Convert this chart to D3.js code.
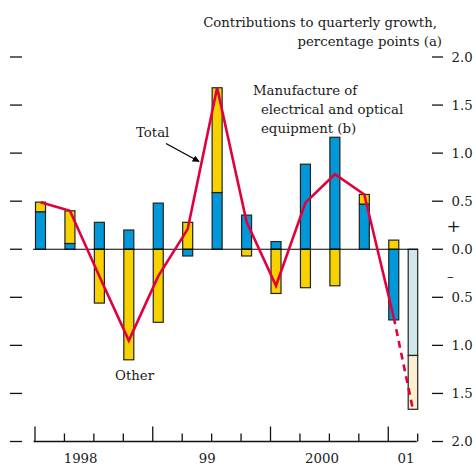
<!DOCTYPE html>
<html>
<head>
<meta charset="utf-8">
<script src="https://cdn.jsdelivr.net/npm/d3@7"></script>
<style>
  html, body { margin: 0; padding: 0; background: #ffffff; }
  svg { display: block; }
  text { font-family: "DejaVu Serif", "Liberation Serif", serif; fill: #1a1a1a; }
</style>
</head>
<body>
<svg id="chart" width="476" height="466"></svg>
<script>
// Quarterly contributions to manufacturing output growth, percentage points
const quarters = ["1998 Q1", "1998 Q2", "1998 Q3", "1998 Q4",
                  "1999 Q1", "1999 Q2", "1999 Q3", "1999 Q4",
                  "2000 Q1", "2000 Q2", "2000 Q3", "2000 Q4",
                  "2001 Q1"];
const electrical = [0.39, 0.06, 0.28, 0.20, 0.48, -0.07, 0.59, 0.355, 0.08, 0.885, 1.165, 0.47, -0.735];
const other      = [0.10, 0.34, -0.56, -1.15, -0.76, 0.28, 1.09, -0.07, -0.46, -0.40, -0.38, 0.10, 0.095];
const total      = [0.49, 0.40, -0.28, -0.95, -0.28, 0.21, 1.68, 0.285, -0.38, 0.485, 0.78, 0.57, -0.71];

// Projected quarter (light bar, dashed line)
const projQuarter = "2001 Q2";
const projElectrical = -1.105;
const projOther = -0.56;
const projTotal = -1.665;

// Axis ticks and labels
const yTicks = [2, 1.5, 1, 0.5, 0, -0.5, -1, -1.5, -2];
const yTickLabels = ["2.0", "1.5", "1.0", "0.5", "0.0", "0.5", "1.0", "1.5", "2.0"];
const years = ["1998", "99", "2000", "01"];

// ---- layout ----
const svg = d3.select("#chart");
const nTicks = quarters.length + 1;          // quarter boundaries
const x = d3.scaleLinear().domain([0, nTicks - 1]).range([35, 417.7]);
const y = d3.scaleLinear().domain([-2, 2]).range([441.5, 57]);
const barW = 10;
const yearLabelAt = [1.55, 5.85, 9.75, 12.6];   // label centres, in quarter units

const colBlue = "#0098d8";
const colYellow = "#f8d200";
const colRed = "#e2003c";
const colBlueLight = "#d0e7ea";
const colYellowLight = "#fdf0cf";
const colEdge = "#222222";

// ---- stacked bars ----
const rows = quarters.map((q, i) => ({ q, i, electrical: electrical[i], other: other[i] }));
const stack = d3.stack().keys(["electrical", "other"]).offset(d3.stackOffsetDiverging);
const series = stack(rows);
const colours = { electrical: colBlue, other: colYellow };

svg.append("g").selectAll("g")
  .data(series)
  .join("g")
  .attr("fill", s => colours[s.key])
  .selectAll("rect")
  .data(s => s)
  .join("rect")
  .attr("x", d => x(d.data.i) + 0.5)
  .attr("width", barW)
  .attr("y", d => y(Math.max(d[0], d[1])))
  .attr("height", d => Math.abs(y(d[0]) - y(d[1])))
  .attr("stroke", colEdge)
  .attr("stroke-width", 1.2);

// projected bar
const projRows = [{ i: nTicks - 1, electrical: projElectrical, other: projOther }];
const projSeries = stack(projRows);
const projColours = { electrical: colBlueLight, other: colYellowLight };
svg.append("g").selectAll("rect")
  .data(projSeries.map(s => ({ key: s.key, v: s[0] })))
  .join("rect")
  .attr("x", d => x(d.v.data.i) - 9.5)
  .attr("width", 9.5)
  .attr("y", d => y(Math.max(d.v[0], d.v[1])))
  .attr("height", d => Math.abs(y(d.v[0]) - y(d.v[1])))
  .attr("fill", d => projColours[d.key])
  .attr("stroke", colEdge)
  .attr("stroke-width", 1.2);

// zero line
svg.append("line")
  .attr("x1", x(0) - 2).attr("x2", x(nTicks - 1))
  .attr("y1", y(0)).attr("y2", y(0))
  .attr("stroke", "#000").attr("stroke-width", 1.2);

// ---- total line ----
const line = d3.line().x(d => d[0]).y(d => y(d[1]));
const totalPts = total.map((v, i) => [x(i) + barW / 2 + 0.5, v]);
svg.append("path")
  .attr("d", line(totalPts))
  .attr("fill", "none").attr("stroke", colRed)
  .attr("stroke-width", 2.6).attr("stroke-linejoin", "miter");
svg.append("path")
  .attr("d", line([totalPts[totalPts.length - 1], [x(nTicks - 1) - 4.8, projTotal]]))
  .attr("fill", "none").attr("stroke", colRed)
  .attr("stroke-width", 2.6).attr("stroke-dasharray", "7,5");

// ---- y ticks, left and right ----
const yAxisG = svg.append("g");
yAxisG.selectAll("line.l")
  .data(yTicks).join("line").attr("class", "l")
  .attr("x1", 10).attr("x2", 22)
  .attr("y1", d => y(d)).attr("y2", d => y(d))
  .attr("stroke", "#111").attr("stroke-width", 1.3);
yAxisG.selectAll("line.r")
  .data(yTicks).join("line").attr("class", "r")
  .attr("x1", 432).attr("x2", 443)
  .attr("y1", d => y(d)).attr("y2", d => y(d))
  .attr("stroke", "#111").attr("stroke-width", 1.3);
yAxisG.selectAll("text")
  .data(yTicks).join("text")
  .attr("x", 451.5)
  .attr("y", d => y(d))
  .attr("dy", "0.36em")
  .attr("font-size", 13.3)
  .text((d, i) => yTickLabels[i]);
// sign markers between the zero and ±0.5 labels
svg.append("text").attr("x", 446.5).attr("y", (y(0) + y(0.5)) / 2 + 1).attr("dy", "0.36em")
  .attr("font-size", 17).text("+");
svg.append("text").attr("x", 447).attr("y", (y(0) + y(-0.5)) / 2 + 3).attr("dy", "0.36em")
  .attr("font-size", 13.3).text("\u2013");

// ---- x axis ----
const xAxisY = 441.5;
svg.append("line")
  .attr("x1", x(0) - 1.5).attr("x2", x(nTicks - 1) - 1)
  .attr("y1", xAxisY).attr("y2", xAxisY)
  .attr("stroke", "#111").attr("stroke-width", 1.3);
svg.append("g").selectAll("line")
  .data(d3.range(nTicks)).join("line")
  .attr("x1", d => x(d)).attr("x2", d => x(d))
  .attr("y1", d => d % 4 === 0 ? xAxisY - 15 : xAxisY - 8)
  .attr("y2", xAxisY)
  .attr("stroke", "#111").attr("stroke-width", 1.3);
svg.append("g").selectAll("text")
  .data(years).join("text")
  .attr("x", (d, i) => x(yearLabelAt[i]))
  .attr("y", 463)
  .attr("text-anchor", "middle")
  .attr("font-size", 13.3)
  .text(d => d);

// ---- annotations ----
const fs = 13.3;
const unitsLabel = ["Contributions to quarterly growth,", "percentage points (a)"];
svg.append("text").attr("x", 437).attr("y", 27).attr("text-anchor", "end")
  .attr("font-size", fs).text(unitsLabel[0]);
svg.append("text").attr("x", 442).attr("y", 46).attr("text-anchor", "end")
  .attr("font-size", fs).text(unitsLabel[1]);

const elecLabel = svg.append("text").attr("font-size", fs);
elecLabel.append("tspan").attr("x", 253).attr("y", 95).text("Manufacture of");
elecLabel.append("tspan").attr("x", 261).attr("y", 114).text("electrical and optical");
elecLabel.append("tspan").attr("x", 261).attr("y", 133).text("equipment (b)");

svg.append("text").attr("x", 136).attr("y", 137).attr("font-size", fs).text("Total");
svg.append("text").attr("x", 115).attr("y", 380).attr("font-size", fs).text("Other");

// arrow pointing at the total line
const defs = svg.append("defs");
defs.append("marker").attr("id", "arrow")
  .attr("viewBox", "0 0 10 10").attr("refX", 9).attr("refY", 5)
  .attr("markerWidth", 7).attr("markerHeight", 7).attr("markerUnits", "userSpaceOnUse")
  .attr("orient", "auto")
  .append("path").attr("d", "M0,0 L10,5 L0,10 Z").attr("fill", "#000");
svg.append("line")
  .attr("x1", 166).attr("y1", 143.5).attr("x2", 199).attr("y2", 161.5)
  .attr("stroke", "#000").attr("stroke-width", 1.3)
  .attr("marker-end", "url(#arrow)");
</script>
</body>
</html>
